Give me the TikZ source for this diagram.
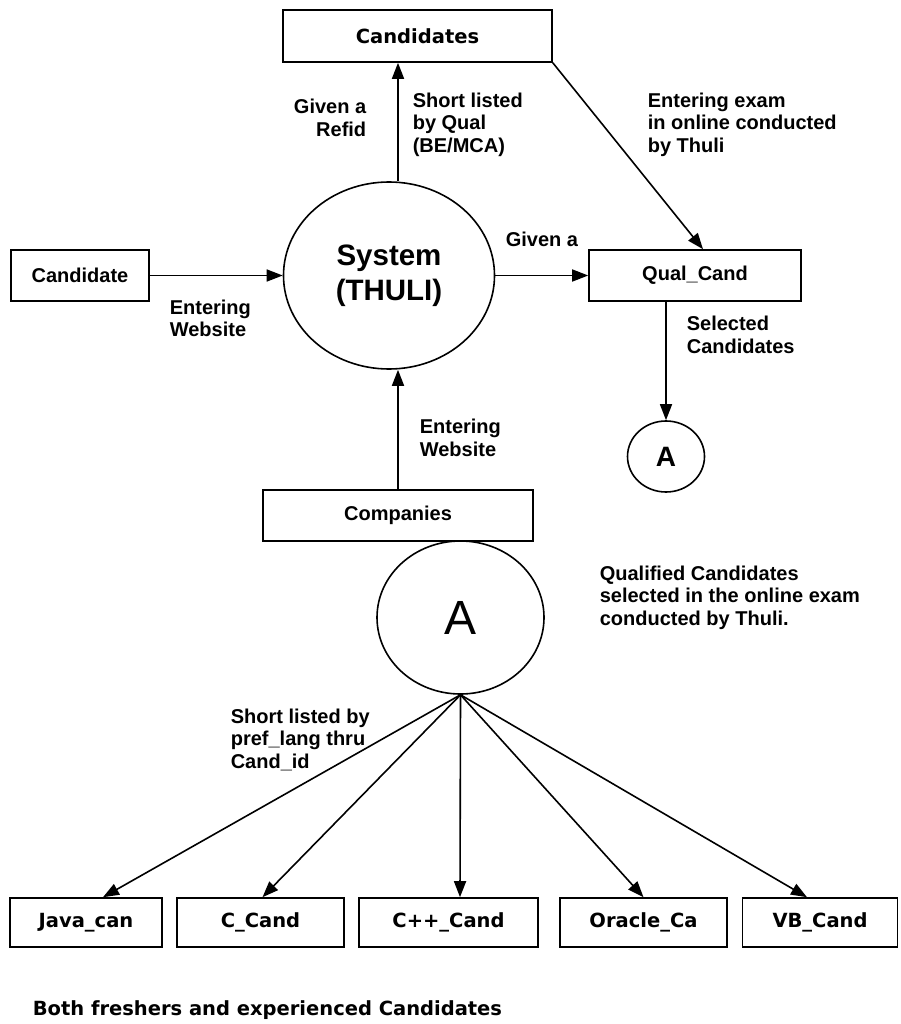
\documentclass[tikz,border=0pt]{standalone}
\usepackage{fontspec}
\setmainfont{Liberation Sans}
\newfontfamily\verdfont{DejaVu Sans}
\usepackage{tikz}
\usetikzlibrary{shapes.geometric,arrows.meta}

\begin{document}
\begin{tikzpicture}[x=1pt,y=-1pt,
      line width=1.6pt,
      every node/.style={inner sep=0pt,font=\bfseries\fontsize{20}{22.5}\selectfont},
      box/.style={draw,rectangle,minimum height=51pt},
      vbox/.style={box,minimum height=49pt,font=\verdfont\bfseries\fontsize{19.5}{22}\selectfont},
      proc/.style={draw,ellipse},
      lbl/.style={align=left,anchor=west},
      flow/.style={-{Triangle[length=16pt,width=12pt]}}]
    \useasboundingbox (0,0) rectangle (900,1024);
    \node[vbox,minimum width=269pt,minimum height=52pt] (cands) at (417.5,36) {Candidates};
    \node[box,minimum width=138pt] (cand) at (80,275.5) {Candidate};
    \node[proc,minimum width=211pt,minimum height=187pt,
          font=\bfseries\fontsize{29.5}{35}\selectfont,align=center] (sys) at (389,275.5) {System\\(THULI)};
    \node[box,minimum width=212pt] (qual) at (695,275.5) {Qual\_Cand};
    \node[proc,minimum width=77pt,minimum height=71pt,
          font=\bfseries\fontsize{28}{30}\selectfont] (a2) at (666,456.5) {A};
    \node[box,minimum width=270pt] (comp) at (398,515.5) {Companies};
    \node[proc,minimum width=167pt,minimum height=153pt,
          font=\mdseries\fontsize{48}{50}\selectfont] (a1) at (460.5,617.5) {A};
    \node[vbox,minimum width=152pt] (java) at (86,922.5) {Java\_can};
    \node[vbox,minimum width=167pt] (ccand) at (260.5,922.5) {C\_Cand};
    \node[vbox,minimum width=179pt] (cpp) at (448.5,922.5) {C++\_Cand};
    \node[vbox,minimum width=167pt] (ora) at (643.5,922.5) {Oracle\_Ca};
    \node[vbox,minimum width=155pt] (vb) at (820,922.5) {VB\_Cand};

    \draw[flow] (cand) -- (sys);
    \draw[flow] (sys) -- (qual);
    \draw[flow] (sys.north -| comp.north) -- (cands.south -| comp.north);
    \draw[flow] (comp.north) -- (comp.north |- sys.south);
    \draw[flow] (cands.south east) -- ([xshift=8pt]qual.north);
    \draw[flow] (qual.south -| a2.north) -- (a2.north);
    \draw[flow] (a1.south) -- ([xshift=17pt]java.north);
    \draw[flow] (a1.south) -- ([xshift=2pt]ccand.north);
    \draw[flow] (a1.south) -- ([xshift=11.5pt]cpp.north);
    \draw[flow] (a1.south) -- (ora.north);
    \draw[flow] (a1.south) -- ([xshift=-13pt]vb.north);

    \node[align=right,anchor=east] (refid) at (367,118) {Given a\\Refid};
    \node[lbl] (shortq) at (412,124.5) {Short listed\\by Qual\\(BE/MCA)};
    \node[lbl] (exam) at (647,124.5) {Entering exam\\in online conducted\\by Thuli};
    \node[lbl] (given) at (505,239) {Given a};
    \node[lbl] (web1) at (169,318.5) {Entering\\Website};
    \node[lbl] (web2) at (419,438) {Entering\\Website};
    \node[lbl] (sel) at (686,335) {Selected\\Candidates};
    \node[lbl] (qualif) at (599,597.5) {Qualified Candidates\\selected in the online exam\\conducted by Thuli.};
    \node[lbl] (pref) at (230,739.5) {Short listed by\\pref\_lang thru\\Cand\_id};
    \node[lbl,font=\verdfont\bfseries\fontsize{19.5}{22}\selectfont] (both) at (32,1010) {Both freshers and experienced Candidates};
\end{tikzpicture}
\end{document}
